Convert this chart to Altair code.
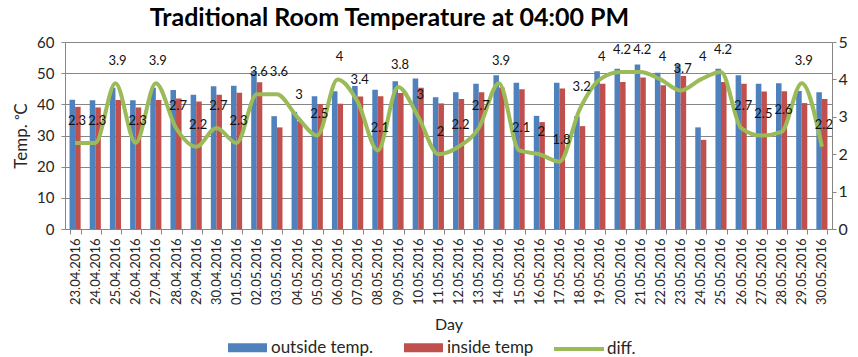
import altair as alt
import pandas as pd

# Daily readings at 16:00
days = [
    "23.04.2016", "24.04.2016", "25.04.2016", "26.04.2016", "27.04.2016",
    "28.04.2016", "29.04.2016", "30.04.2016", "01.05.2016", "02.05.2016",
    "03.05.2016", "04.05.2016", "05.05.2016", "06.05.2016", "07.05.2016",
    "08.05.2016", "09.05.2016", "10.05.2016", "11.05.2016", "12.05.2016",
    "13.05.2016", "14.05.2016", "15.05.2016", "16.05.2016", "17.05.2016",
    "18.05.2016", "19.05.2016", "20.05.2016", "21.05.2016", "22.05.2016",
    "23.05.2016", "24.05.2016", "25.05.2016", "26.05.2016", "27.05.2016",
    "28.05.2016", "29.05.2016", "30.05.2016",
]
outside_temp = [
    41.5, 41.3, 45.3, 41.3, 45.3, 44.6, 43.1, 45.8, 46.0, 50.7,
    36.2, 37.6, 42.6, 44.2, 45.9, 44.7, 47.4, 48.3, 42.3, 43.9,
    46.6, 49.3, 46.9, 36.3, 46.9, 36.2, 50.6, 51.4, 52.8, 50.1,
    52.8, 32.6, 51.4, 49.3, 46.6, 46.8, 44.3, 43.9,
]
inside_temp = [
    39.2, 39.0, 41.4, 39.0, 41.4, 41.9, 40.9, 43.1, 43.7, 47.1,
    32.6, 34.6, 40.1, 40.2, 42.5, 42.6, 43.6, 45.3, 40.3, 41.7,
    43.9, 45.4, 44.8, 34.3, 45.1, 33.0, 46.6, 47.2, 48.6, 46.1,
    49.1, 28.6, 47.2, 46.6, 44.1, 44.2, 40.4, 41.7,
]
diff = [
    2.3, 2.3, 3.9, 2.3, 3.9, 2.7, 2.2, 2.7, 2.3, 3.6,
    3.6, 3, 2.5, 4, 3.4, 2.1, 3.8, 3, 2, 2.2,
    2.7, 3.9, 2.1, 2, 1.8, 3.2, 4, 4.2, 4.2, 4,
    3.7, 4, 4.2, 2.7, 2.5, 2.6, 3.9, 2.2,
]
bar_series = ["outside temp.", "inside temp"]
bar_colors = ["#4F81BD", "#C0504D"]
line_series = ["diff."]
line_colors = ["#9BBB59"]

n = len(days)
bars_df = pd.DataFrame({
    "Day": days * 2,
    "series": [bar_series[0]] * n + [bar_series[1]] * n,
    "temp": outside_temp + inside_temp,
})
diff_df = pd.DataFrame({"Day": days, "diff": diff, "series": line_series[0]})

FONT = "Lato"
TEXT = "#262626"
AXIS_LINE = "#868686"

x_enc = alt.X(
    "Day:N",
    sort=days,
    scale=alt.Scale(paddingInner=0.45, paddingOuter=0.225),
    axis=alt.Axis(
        title="Day",
        labelAngle=-90,
        tickBand="extent",
        tickSize=5,
        labelPadding=4,
        labelFontSize=13,
        titleFontSize=16,
        titlePadding=12,
    ),
)

bars = alt.Chart(bars_df).mark_bar().encode(
    x=x_enc,
    xOffset=alt.XOffset("series:N", sort=bar_series),
    y=alt.Y(
        "temp:Q",
        scale=alt.Scale(domain=[0, 60]),
        axis=alt.Axis(
            title="Temp. ᵒC",
            values=[0, 10, 20, 30, 40, 50, 60],
            grid=True,
            tickSize=4,
            labelPadding=7,
            labelFontSize=15,
            titleFontSize=17,
            titlePadding=6,
        ),
    ),
    fill=alt.Fill(
        "series:N",
        sort=bar_series,
        scale=alt.Scale(domain=bar_series, range=bar_colors),
        legend=alt.Legend(
            title=None,
            orient="none",
            legendX=163,
            legendY=286,
            direction="horizontal",
            symbolType="M-1,-0.23H1V0.23H-1Z",
            symbolSize=1521,
            symbolStrokeWidth=0,
            labelOffset=4,
            columnPadding=30,
            labelFontSize=17,
        ),
    ),
)

# Difference line and its value labels share the right-hand axis
line = alt.Chart().mark_line(strokeWidth=4, interpolate="monotone").encode(
    stroke=alt.Stroke(
        "series:N",
        scale=alt.Scale(domain=line_series, range=line_colors),
        legend=alt.Legend(
            title=None,
            orient="none",
            legendX=487,
            legendY=280,
            symbolType="stroke",
            symbolSize=2500,
            symbolStrokeWidth=4,
            labelOffset=1,
            labelFontSize=17,
        ),
    ),
)

labels = alt.Chart().mark_text(
    dy=-22, dx=2, fontSize=13, font=FONT, color="#111111"
).encode(
    text=alt.Text("diff:Q", format="~g"),
)

diff_layer = alt.layer(line, labels, data=diff_df).encode(
    x=alt.X("Day:N", sort=days),
    y=alt.Y(
        "diff:Q",
        scale=alt.Scale(domain=[0, 5]),
        axis=alt.Axis(
            title=None,
            orient="right",
            values=[0, 1, 2, 3, 4, 5],
            grid=False,
            tickSize=4,
            labelPadding=2,
            labelFontSize=16,
            labelOverlap=False,
        ),
    ),
)

chart = (
    alt.layer(bars, diff_layer)
    .resolve_scale(y="independent")
    .properties(
        width=767,
        height=187,
        autosize=alt.AutoSizeParams(type="none"),
        padding={"left": 65, "top": 42, "right": 26, "bottom": 128},
        title=alt.Title(
            "Traditional Room Temperature at 04:00 PM",
            font=FONT,
            fontSize=25,
            fontWeight="bold",
            color="black",
            anchor="middle",
            dx=-59,
            offset=3,
        ),
    )
    .configure_view(stroke=None)
    .configure_axis(
        labelFont=FONT,
        titleFont=FONT,
        labelColor=TEXT,
        titleColor=TEXT,
        titleFontWeight="normal",
        domainColor=AXIS_LINE,
        tickColor=AXIS_LINE,
        gridColor=AXIS_LINE,
    )
    .configure_legend(labelFont=FONT, labelColor=TEXT)
)

chart.save("out.html", embed_options={"renderer": "svg", "actions": False})
